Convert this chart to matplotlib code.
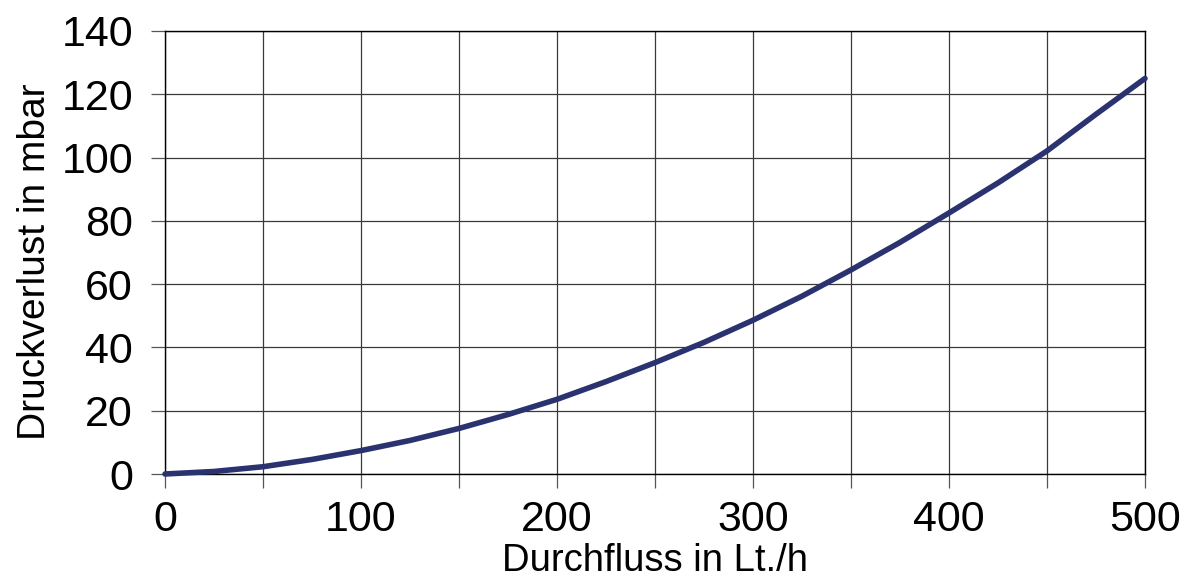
import matplotlib
matplotlib.use("Agg")
import matplotlib.pyplot as plt
from matplotlib.ticker import MultipleLocator

# Flow rate (l/h) and resulting pressure loss (mbar)
durchfluss = [0, 25, 50, 75, 100, 125, 150, 175, 200, 225, 250,
              275, 300, 325, 350, 375, 400, 425, 450, 475, 500]
druckverlust = [0, 0.8, 2.3, 4.6, 7.4, 10.6, 14.4, 18.8, 23.6, 29.2, 35.2,
                41.6, 48.6, 56.2, 64.5, 73.2, 82.5, 92.0, 102.1, 113.7, 125.0]

x_ticks = [0, 100, 200, 300, 400, 500]
y_ticks = [0, 20, 40, 60, 80, 100, 120, 140]

plt.rcParams['font.family'] = ['Liberation Sans', 'DejaVu Sans']

fig = plt.figure(figsize=(11.84, 5.79), dpi=100)
ax = fig.add_axes([165 / 1184, 1 - 474 / 579, 980 / 1184, 443 / 579])

ax.plot(durchfluss, druckverlust, color='#2b3270', lw=4.0,
        solid_capstyle='round', solid_joinstyle='round', zorder=3,
        clip_on=False)

ax.set_xlim(0, 500)
ax.set_ylim(0, 140)
ax.set_xticks(x_ticks)
ax.xaxis.set_minor_locator(MultipleLocator(50))
ax.set_yticks(y_ticks)

ax.grid(True, which='both', axis='x', color='#3a3a3a', lw=0.9)
ax.grid(True, which='major', axis='y', color='#3a3a3a', lw=0.9)
ax.set_axisbelow(True)

for s in ax.spines.values():
    s.set_color('black')
    s.set_linewidth(1.0)

ax.tick_params(axis='both', which='both', direction='out', length=10,
               width=0.9, color='#555555', labelsize=31)
ax.tick_params(axis='x', pad=9)
ax.tick_params(axis='y', pad=13)

ax.set_xlabel('Durchfluss in Lt./h', fontsize=27.5)
ax.set_ylabel('Druckverlust in mbar', fontsize=28)
ax.xaxis.set_label_coords(0.5, -0.156)
ax.yaxis.set_label_coords(-0.114, 0.479)

fig.savefig('out.png', dpi=100)
